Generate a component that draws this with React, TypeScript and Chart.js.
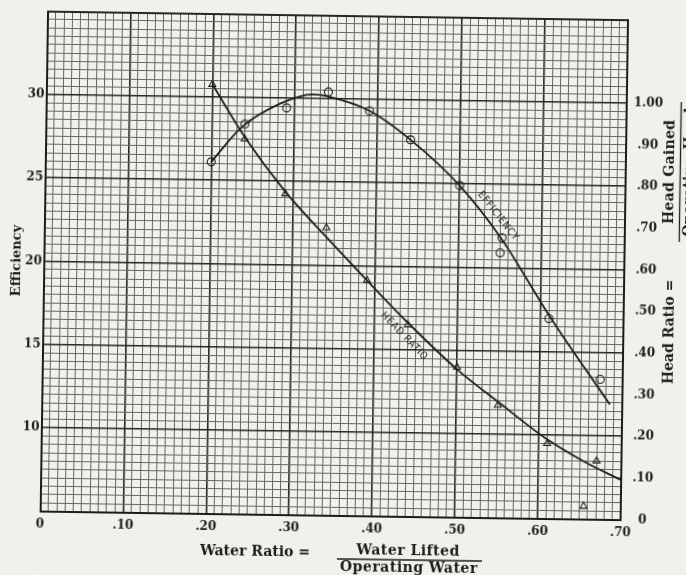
import { useEffect, useRef } from 'react';
import { Chart, registerables } from 'chart.js';

Chart.register(...registerables);

const PAPER = '#f1f0eb';
const INK = '#1c1c1c';
const MINOR = '#666664';
const MAJOR = '#262626';
const SERIF = "'DejaVu Serif', 'Liberation Serif', serif";
const SANS = "'DejaVu Sans Condensed', 'DejaVu Sans', sans-serif";

// Tick labels
const xTickValues = [0, 0.1, 0.2, 0.3, 0.4, 0.5, 0.6, 0.7];
const xTickLabels = ['0', '.10', '.20', '.30', '.40', '.50', '.60', '.70'];
const effTickValues = [10, 15, 20, 25, 30];
const effTickLabels = ['10', '15', '20', '25', '30'];
const headTickValues = [0, 0.1, 0.2, 0.3, 0.4, 0.5, 0.6, 0.7, 0.8, 0.9, 1.0];
const headTickLabels = ['0', '.10', '.20', '.30', '.40', '.50', '.60', '.70', '.80', '.90', '1.00'];

// Efficiency (left axis): faired curve and observed points (circles)
const effCurveX = [0.2, 0.236, 0.282, 0.322, 0.342, 0.39, 0.44, 0.5, 0.552, 0.61, 0.685];
const effCurveY = [26.1, 28.2, 29.65, 30.24, 30.1, 29.3, 27.6, 24.9, 21.7, 17.2, 11.9];
const effPointX = [0.2, 0.24, 0.29, 0.34, 0.39, 0.44, 0.5, 0.552, 0.55, 0.61, 0.673];
const effPointY = [26.1, 28.4, 29.4, 30.4, 29.3, 27.6, 24.9, 21.8, 20.9, 17.0, 13.4];

// Head ratio (right axis): faired curve and observed points (triangles)
const headCurveX = [0.2, 0.24, 0.29, 0.34, 0.39, 0.44, 0.5, 0.553, 0.61, 0.655, 0.7];
const headCurveY = [1.03, 0.905, 0.775, 0.668, 0.565, 0.465, 0.355, 0.274, 0.19, 0.138, 0.095];
const headPointX = [0.2, 0.24, 0.29, 0.34, 0.39, 0.44, 0.5, 0.55, 0.61, 0.67, 0.655];
const headPointY = [1.03, 0.9, 0.77, 0.69, 0.565, 0.46, 0.36, 0.27, 0.18, 0.14, 0.031];

// Curve label anchors (data coordinates)
const effLabelPos = [0.547, 23.1];
const headLabelPos = [0.436, 0.432];

const near = (a: number, b: number) => Math.abs(a - b) < 1e-6;
const lookup = (vals: number[], labels: string[], v: number) => {
  const i = vals.findIndex((t) => near(t, v));
  return i >= 0 ? labels[i] : '';
};
const isMajorX = (v: number) => near(v * 10, Math.round(v * 10));
const isMajorY = (v: number) => near(v / 5, Math.round(v / 5));

const paperPlugin = {
  id: 'paper',
  beforeDraw(chart: any) {
    const { ctx, width, height } = chart;
    ctx.save();
    ctx.fillStyle = PAPER;
    ctx.fillRect(0, 0, width, height);
    ctx.restore();
  },
};

function drawAlong(chart: any, text: string, pos: number[], yId: string, cx: number[], cy: number[]) {
  const { ctx } = chart;
  const xs = chart.scales.x;
  const ys = chart.scales[yId];
  let i = cx.findIndex((v) => v > pos[0]);
  if (i < 1) i = 1;
  const x0 = xs.getPixelForValue(cx[i - 1]);
  const y0 = ys.getPixelForValue(cy[i - 1]);
  const x1 = xs.getPixelForValue(cx[i]);
  const y1 = ys.getPixelForValue(cy[i]);
  const ang = Math.atan2(y1 - y0, x1 - x0);
  ctx.save();
  ctx.translate(xs.getPixelForValue(pos[0]), ys.getPixelForValue(pos[1]));
  ctx.rotate(ang);
  ctx.font = `10px ${SANS}`;
  (ctx as any).letterSpacing = '0.8px';
  ctx.fillStyle = INK;
  ctx.textAlign = 'center';
  ctx.textBaseline = 'middle';
  ctx.fillText(text, 0, 0);
  ctx.restore();
}

const textPlugin = {
  id: 'texts',
  afterDraw(chart: any) {
    const { ctx } = chart;
    drawAlong(chart, 'EFFICIENCY', effLabelPos, 'y', effCurveX, effCurveY);
    drawAlong(chart, 'HEAD RATIO', headLabelPos, 'y1', headCurveX, headCurveY);

    ctx.save();
    ctx.fillStyle = INK;
    ctx.strokeStyle = INK;
    ctx.font = `bold 14px ${SERIF}`;
    ctx.textBaseline = 'middle';
    ctx.textAlign = 'center';

    // bottom title: Water Ratio = Water Lifted / Operating Water
    ctx.fillText('Water Ratio =', 259, 553);
    (ctx as any).letterSpacing = '0.5px';
    ctx.fillText('Water Lifted', 412, 550);
    ctx.fillText('Operating Water', 413, 567);
    ctx.lineWidth = 1.3;
    ctx.beginPath();
    ctx.moveTo(341, 559);
    ctx.lineTo(486, 559);
    ctx.stroke();
    (ctx as any).letterSpacing = '0px';

    // right title: Head Ratio = Head Gained / Operating Head (rotated)
    ctx.translate(678.5, 167);
    ctx.rotate(-Math.PI / 2);
    ctx.fillText('Head Ratio =', -160, -8);
    (ctx as any).letterSpacing = '0.3px';
    ctx.fillText('Head Gained', 0, -10);
    ctx.fillText('Operating Head', 0, 10);
    ctx.beginPath();
    ctx.moveTo(-70, 0);
    ctx.lineTo(70, 0);
    ctx.stroke();
    ctx.restore();
  },
};

const tickFont = { family: SERIF, size: 12, weight: 'bold' };

export default function App() {
  const ref = useRef<HTMLCanvasElement | null>(null);

  useEffect(() => {
    const canvas = ref.current;
    if (!canvas) return;
    document.body.style.background = PAPER;

    const pts = (xs: number[], ys: number[]) => xs.map((x, i) => ({ x, y: ys[i] }));

    const chart = new Chart(canvas, {
      type: 'scatter',
      data: {
        datasets: [
          {
            label: 'Efficiency curve',
            data: pts(effCurveX, effCurveY),
            yAxisID: 'y',
            showLine: true,
            pointRadius: 0,
            borderColor: INK,
            borderWidth: 1.8,
            cubicInterpolationMode: 'monotone',
            fill: false,
          },
          {
            label: 'Head ratio curve',
            data: pts(headCurveX, headCurveY),
            yAxisID: 'y1',
            showLine: true,
            pointRadius: 0,
            borderColor: INK,
            borderWidth: 1.8,
            cubicInterpolationMode: 'monotone',
            fill: false,
          },
          {
            label: 'Efficiency',
            data: pts(effPointX, effPointY),
            yAxisID: 'y',
            showLine: false,
            pointStyle: 'circle',
            pointRadius: 4,
            pointBorderWidth: 1.1,
            pointBorderColor: INK,
            pointBackgroundColor: 'rgba(0,0,0,0)',
          },
          {
            label: 'Head ratio',
            data: pts(headPointX, headPointY),
            yAxisID: 'y1',
            showLine: false,
            pointStyle: 'triangle',
            pointRadius: 4,
            pointBorderWidth: 1.1,
            pointBorderColor: INK,
            pointBackgroundColor: 'rgba(0,0,0,0)',
          },
        ],
      } as any,
      options: {
        animation: false,
        responsive: false,
        maintainAspectRatio: false,
        layout: { padding: { top: 15.5, left: 0, right: 0, bottom: 0 } },
        plugins: { legend: { display: false }, tooltip: { enabled: false } },
        scales: {
          x: {
            type: 'linear',
            position: 'bottom',
            min: 0,
            max: 0.7,
            ticks: {
              stepSize: 0.01,
              autoSkip: false,
              maxRotation: 0,
              minRotation: 0,
              padding: 6,
              color: INK,
              font: tickFont,
              callback: (v: any) => lookup(xTickValues, xTickLabels, Number(v)),
            },
            grid: {
              drawTicks: false,
              color: (c: any) => (isMajorX(c.tick.value) ? MAJOR : MINOR),
              lineWidth: (c: any) => {
                const v = c.tick.value;
                if (near(v, 0) || near(v, 0.7)) return 2;
                return isMajorX(v) ? 1.6 : 1;
              },
            },
            border: { display: true, color: INK, width: 2 },
            afterFit: (s: any) => {
              s.height = 59.5;
            },
          },
          y: {
            type: 'linear',
            position: 'left',
            min: 5,
            max: 35,
            ticks: {
              stepSize: 0.5,
              autoSkip: false,
              padding: 2,
              color: INK,
              font: tickFont,
              callback: (v: any) => lookup(effTickValues, effTickLabels, Number(v)),
            },
            grid: {
              drawTicks: false,
              color: (c: any) => (isMajorY(c.tick.value) ? MAJOR : MINOR),
              lineWidth: (c: any) => {
                const v = c.tick.value;
                if (near(v, 5) || near(v, 35)) return 2;
                return isMajorY(v) ? 1.6 : 1;
              },
            },
            border: { display: true, color: INK, width: 2 },
            title: {
              display: true,
              text: 'Efficiency',
              color: INK,
              font: { family: SERIF, size: 13, weight: 'bold' },
              padding: { top: 9, bottom: 0 },
            },
            afterFit: (s: any) => {
              s.width = 43.5;
            },
          },
          y1: {
            type: 'linear',
            position: 'right',
            min: 0,
            max: 1.2,
            ticks: {
              stepSize: 0.1,
              autoSkip: false,
              padding: 7,
              crossAlign: 'center',
              color: INK,
              font: tickFont,
              callback: (v: any) => lookup(headTickValues, headTickLabels, Number(v)),
            },
            grid: { display: false, drawTicks: false },
            border: { display: true, color: INK, width: 2 },
            afterFit: (s: any) => {
              s.width = 62;
            },
          },
        },
      } as any,
      plugins: [paperPlugin, textPlugin],
    });

    return () => {
      chart.destroy();
    };
  }, []);

  return (
    <div
      style={{
        position: 'absolute',
        left: 0,
        top: 0,
        width: 686,
        height: 575,
        overflow: 'hidden',
        background: PAPER,
      }}
    >
      <canvas
        ref={ref}
        width={686}
        height={575}
        style={{
          display: 'block',
          width: 686,
          height: 575,
          transform: 'rotate(0.85deg)',
          transformOrigin: '50% 50%',
        }}
      />
    </div>
  );
}
